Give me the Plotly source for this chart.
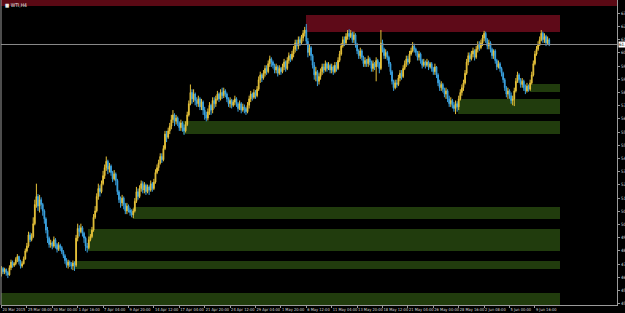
import plotly.graph_objects as go

# ---------------- data (WTI, H4, 20 Mar 2015 16:00 -> 11 Jun 2015) ----------------
first_open = 46.95
closes = [
    47.30, 47.10,
    47.25, 47.05, 46.90, 47.35, 47.70, 47.50,
    47.60, 47.85, 48.05, 47.75, 47.45, 47.60,
    47.90, 48.40, 48.70, 49.40, 49.10, 49.30,
    50.10, 51.30, 51.80, 51.20, 51.60, 51.30,
    50.90, 50.40, 49.70, 49.20, 48.80, 48.90,
    48.70, 49.10, 48.80, 48.50, 48.75, 48.60,
    48.35, 48.10, 47.80, 47.50, 47.70, 47.55,
    47.45, 47.65, 47.50, 49.20, 49.80, 49.60,
    49.85, 49.50, 49.20, 48.70, 48.60, 49.10,
    49.30,
    49.70, 50.50, 50.90, 51.80, 52.30, 52.10,
    52.60, 53.10, 53.60, 54.00, 53.50, 53.70,
    53.30, 52.90, 53.20, 52.80, 52.10, 51.60,
    51.40, 51.70, 51.30, 50.90, 51.20, 50.95,
    50.80, 50.65, 50.90, 51.50, 52.10, 51.80,
    52.30, 52.60, 52.20, 52.50, 52.10, 52.40,
    52.20, 52.60, 52.30, 52.70, 53.30, 53.60,
    53.90, 54.30, 54.10, 54.80, 55.70, 55.50,
    55.90, 56.20, 56.60, 56.90, 56.50, 56.70,
    56.40, 56.10, 56.40, 56.10, 55.90, 56.30,
    56.90, 57.60, 58.30, 57.90, 58.20, 57.80,
    57.60, 57.90, 57.40, 57.70, 57.20, 56.90,
    56.70, 57.10, 57.50, 57.20, 57.80, 57.60,
    57.90, 58.20, 57.90, 58.30, 58.10, 58.40,
    58.20, 57.90, 57.60, 57.80, 57.50, 57.70,
    57.90, 57.60, 57.30, 57.60, 57.20, 57.40,
    57.30, 57.10, 57.50, 57.90, 58.20, 58.00,
    58.30, 58.10, 58.50, 59.10, 59.40, 59.20,
    59.50, 59.80, 59.60, 60.10, 60.40, 60.20,
    60.00, 59.70, 59.90, 59.50, 59.80, 59.60,
    59.90, 60.20, 59.80, 60.30, 60.60, 60.40,
    60.70, 61.00, 61.40, 61.20, 61.60, 61.40,
    61.70, 62.00, 62.20, 61.50, 60.80, 61.10,
    60.60, 60.00, 59.40, 59.60, 59.00, 59.30,
    59.60, 59.90, 59.70, 60.10, 59.80, 60.00,
    59.70, 59.90, 59.60, 60.00, 59.80, 60.30,
    60.70, 61.20, 61.60, 61.40, 61.80, 62.00,
    61.80, 62.00, 61.60, 61.90, 61.30, 60.90,
    60.60, 60.90, 60.50, 60.10, 60.30, 60.10,
    60.40, 60.20, 59.80, 60.10, 59.90, 60.30,
    60.10, 59.80, 61.40, 61.00, 60.60, 60.80,
    60.50, 60.10, 59.60, 59.00, 58.60, 58.90,
    58.80, 59.20, 59.50, 59.30, 59.80, 60.10,
    60.40, 60.20, 60.70, 60.90, 61.20, 61.00,
    60.80, 60.50, 60.70, 60.30, 60.00, 60.20,
    60.00, 60.20, 59.90, 60.10, 59.80,
    59.60, 59.90, 59.40, 58.90, 58.60, 58.80,
    58.50, 58.20, 58.40, 57.90, 57.60, 57.80,
    57.50, 57.30, 57.60, 57.40, 57.90, 58.30,
    58.60, 58.90, 59.50, 60.20, 60.60, 60.40,
    60.70, 60.90, 60.50, 61.00, 61.30, 61.10,
    61.40, 61.70, 62.00, 61.60, 61.20, 61.40,
    61.00, 60.60, 60.90, 60.30, 59.90, 60.10,
    59.80, 59.50, 59.10, 58.60, 58.20, 58.40,
    58.10, 57.80, 57.90, 58.40, 59.00, 59.40,
    59.10, 58.80, 59.00, 58.60, 58.40, 58.70,
    58.50, 58.90, 59.40, 60.10, 60.70, 61.00,
    61.30, 61.60, 62.00, 61.60, 61.80, 61.40,
    61.60, 61.30,
]
highs = [
    47.45, 47.40,
    47.35, 47.30, 47.15, 47.50, 47.85, 47.80,
    47.70, 48.00, 48.20, 48.10, 47.85, 47.75,
    48.05, 48.55, 48.90, 49.60, 49.55, 49.50,
    50.50, 51.60, 52.60, 51.95, 51.90, 51.75,
    51.40, 51.00, 50.50, 49.90, 49.30, 49.10,
    49.00, 49.30, 49.20, 48.90, 48.95, 48.85,
    48.70, 48.45, 48.20, 47.95, 47.85, 47.80,
    47.70, 47.80, 47.75, 49.40, 50.10, 50.00,
    50.10, 49.95, 49.60, 49.30, 48.90, 49.30,
    49.45,
    49.90, 50.70, 51.20, 52.00, 52.60, 52.50,
    52.80, 53.40, 53.80, 54.30, 54.10, 53.90,
    53.80, 53.40, 53.45, 53.30, 52.90, 52.20,
    51.80, 51.90, 51.80, 51.40, 51.40, 51.30,
    51.10, 51.00, 51.05, 51.70, 52.40, 52.30,
    52.50, 52.80, 52.75, 52.70, 52.60, 52.55,
    52.50, 52.80, 52.70, 52.90, 53.50, 53.80,
    54.10, 54.50, 54.50, 55.00, 55.90, 55.90,
    56.10, 56.40, 56.90, 57.20, 57.00, 56.90,
    56.80, 56.50, 56.60, 56.50, 56.30, 56.50,
    57.10, 57.80, 58.80, 58.50, 58.50, 58.30,
    58.00, 58.10, 58.00, 57.90, 57.80, 57.40,
    57.10, 57.30, 57.70, 57.60, 58.00, 58.00,
    58.10, 58.40, 58.30, 58.50, 58.60, 58.60,
    58.50, 58.30, 58.00, 58.00, 57.90, 57.85,
    58.10, 58.00, 57.70, 57.80, 57.70, 57.60,
    57.55, 57.40, 57.70, 58.10, 58.40, 58.30,
    58.50, 58.45, 58.70, 59.30, 59.60, 59.50,
    59.70, 60.00, 60.00, 60.30, 60.60, 60.50,
    60.30, 60.10, 60.10, 60.00, 60.00, 59.90,
    60.10, 60.40, 60.30, 60.50, 60.80, 60.70,
    60.90, 61.20, 61.60, 61.60, 61.80, 61.80,
    61.90, 62.20, 62.40, 62.58, 61.70, 61.30,
    61.20, 60.70, 60.20, 59.90, 59.70, 59.50,
    59.80, 60.10, 60.10, 60.30, 60.20, 60.20,
    60.10, 60.10, 60.00, 60.20, 60.20, 60.50,
    60.90, 61.40, 61.80, 61.80, 62.00, 62.20,
    62.25, 62.20, 62.10, 62.10, 62.00, 61.40,
    61.00, 61.10, 61.00, 60.60, 60.50, 60.40,
    60.60, 60.50, 60.30, 60.30, 60.20, 60.50,
    60.40, 60.20, 62.20, 61.60, 61.10, 61.00,
    60.90, 60.60, 60.20, 59.70, 59.10, 59.10,
    59.10, 59.40, 59.70, 59.70, 60.00, 60.30,
    60.60, 60.60, 60.90, 61.10, 61.45, 61.35,
    61.10, 60.90, 60.90, 60.80, 60.40, 60.40,
    60.30, 60.40, 60.30, 60.20, 60.20,
    59.90, 60.10, 59.95, 59.50, 59.10, 59.00,
    58.90, 58.60, 58.60, 58.50, 58.10, 58.00,
    57.90, 57.70, 57.80, 57.75, 58.10, 58.50,
    58.80, 59.10, 59.70, 60.40, 60.80, 60.80,
    60.90, 61.10, 61.00, 61.20, 61.50, 61.50,
    61.60, 61.90, 62.15, 62.10, 61.70, 61.60,
    61.50, 61.10, 61.00, 61.00, 60.40, 60.30,
    60.20, 59.90, 59.60, 59.20, 58.70, 58.60,
    58.50, 58.30, 58.10, 58.60, 59.20, 59.60,
    59.50, 59.20, 59.20, 59.10, 58.80, 58.90,
    58.80, 59.10, 59.60, 60.30, 60.90, 61.20,
    61.50, 61.80, 62.20, 62.10, 62.00, 61.90,
    61.80, 61.70,
]
lows = [
    46.80, 46.95,
    46.95, 46.85, 46.70, 46.85, 47.20, 47.35,
    47.40, 47.50, 47.70, 47.55, 47.30, 47.35,
    47.55, 47.85, 48.30, 48.60, 48.95, 49.00,
    49.20, 50.00, 51.10, 50.90, 50.80, 51.00,
    50.60, 50.10, 49.50, 48.90, 48.60, 48.60,
    48.50, 48.60, 48.55, 48.30, 48.40, 48.40,
    48.20, 47.95, 47.60, 47.35, 47.30, 47.40,
    47.25, 47.20, 47.15, 47.40, 49.00, 49.30,
    49.50, 49.30, 48.90, 48.40, 48.30, 48.50,
    49.00,
    49.20, 49.60, 50.40, 50.80, 51.60, 51.80,
    52.00, 52.50, 52.90, 53.40, 53.20, 53.30,
    53.10, 52.70, 52.80, 52.50, 51.90, 51.40,
    51.10, 51.20, 51.00, 50.70, 50.70, 50.80,
    50.60, 50.50, 50.45, 50.80, 51.40, 51.60,
    51.70, 52.10, 52.00, 52.00, 51.90, 52.00,
    51.90, 52.10, 52.10, 52.20, 52.60, 53.20,
    53.40, 53.80, 53.90, 54.00, 54.70, 55.20,
    55.40, 55.70, 56.00, 56.40, 56.20, 56.30,
    56.20, 55.90, 55.90, 55.85, 55.65, 55.80,
    56.20, 56.80, 57.50, 57.60, 57.70, 57.50,
    57.40, 57.40, 57.20, 57.20, 56.90, 56.60,
    56.50, 56.55, 56.90, 56.90, 57.00, 57.30,
    57.40, 57.80, 57.70, 57.80, 57.90, 57.95,
    58.00, 57.70, 57.40, 57.35, 57.30, 57.40,
    57.50, 57.40, 57.10, 57.20, 57.00, 57.10,
    57.00, 56.90, 57.00, 57.30, 57.70, 57.80,
    57.90, 57.90, 58.00, 58.40, 58.90, 58.95,
    59.10, 59.30, 59.40, 59.50, 59.90, 59.90,
    59.80, 59.50, 59.50, 59.30, 59.40, 59.40,
    59.50, 59.70, 59.60, 59.70, 60.10, 60.20,
    60.30, 60.50, 60.80, 60.90, 61.00, 61.20,
    61.30, 61.50, 61.80, 61.30, 60.50, 60.60,
    60.30, 59.80, 59.10, 59.00, 58.70, 58.80,
    59.10, 59.40, 59.50, 59.60, 59.60, 59.70,
    59.50, 59.50, 59.40, 59.50, 59.60, 59.70,
    60.20, 60.60, 61.10, 61.20, 61.30, 61.60,
    61.60, 61.70, 61.40, 61.40, 61.10, 60.70,
    60.40, 60.40, 60.30, 59.90, 59.90, 59.90,
    59.90, 60.00, 59.60, 59.60, 59.70, 59.00,
    59.90, 59.50, 59.70, 60.80, 60.40, 60.40,
    60.30, 59.90, 59.40, 58.80, 58.40, 58.50,
    58.60, 58.70, 59.00, 59.10, 59.20, 59.70,
    59.90, 60.00, 60.10, 60.60, 60.80, 60.80,
    60.60, 60.30, 60.30, 60.10, 59.80, 59.90,
    59.80, 59.90, 59.70, 59.80, 59.60,
    59.40, 59.40, 59.20, 58.70, 58.40, 58.40,
    58.30, 58.00, 57.90, 57.70, 57.40, 57.40,
    57.30, 57.10, 56.95, 57.10, 57.20, 57.80,
    58.10, 58.40, 58.80, 59.40, 60.00, 60.20,
    60.30, 60.50, 60.30, 60.40, 60.80, 60.90,
    61.00, 61.20, 61.50, 61.40, 61.00, 61.00,
    60.80, 60.40, 60.40, 60.10, 59.70, 59.80,
    59.60, 59.30, 58.90, 58.40, 58.00, 57.90,
    57.90, 57.60, 57.50, 57.45, 58.30, 58.90,
    58.90, 58.60, 58.60, 58.40, 58.20, 58.30,
    58.35, 58.40, 58.80, 59.30, 60.00, 60.60,
    60.90, 61.20, 61.50, 61.40, 61.40, 61.20,
    61.30, 61.20,
]
opens = [first_open] + closes[:-1]
bar_index = list(range(len(closes)))

# x-axis labels (every 16 bars)
date_tick_index = [0, 16, 32, 48, 64, 80, 96, 112, 128, 144, 160, 176,
                   192, 208, 224, 240, 256, 272, 288, 304, 320, 336]
date_tick_text = ["20 Mar 2015", "25 Mar 08:00", "30 Mar 00:00", "1 Apr 16:00",
                  "7 Apr 04:00", "9 Apr 20:00", "14 Apr 12:00", "17 Apr 04:00",
                  "21 Apr 20:00", "24 Apr 12:00", "29 Apr 04:00", "1 May 20:00",
                  "6 May 12:00", "11 May 04:00", "13 May 20:00", "18 May 12:00",
                  "21 May 04:00", "26 May 00:00", "28 May 16:00", "2 Jun 08:00",
                  "5 Jun 00:00", "9 Jun 16:00"]

# price scale labels
price_ticks = [63.25, 62.43, 61.60, 60.78, 59.95, 59.13, 58.30, 57.48, 56.65,
               55.83, 55.00, 54.18, 53.35, 52.53, 51.70, 50.88, 50.05, 49.23,
               48.40, 47.58, 46.75, 45.93, 45.10]
price_tick_text = ["%.2f" % v for v in price_ticks]

# supply / demand zones
zone_kind = ["supply", "demand", "demand", "demand", "demand", "demand", "demand", "demand"]
zone_start = [191.8, 332.9, 287.6, 114.3, 82.8, 54.5, 46.3, -1.0]
zone_end = [351.8, 351.8, 351.8, 351.8, 351.8, 351.8, 351.8, 351.8]
zone_low = [62.08, 58.33, 56.96, 55.71, 50.39, 48.39, 47.27, 45.02]
zone_high = [63.14, 58.83, 57.89, 56.52, 51.14, 49.77, 47.77, 45.77]
top_band_low, top_band_high = 63.70, 64.08

x_range = [-0.3, 387.7]
y_range = [45.02, 64.08]

# ---------------- figure ----------------
UP = "#e6c23a"
DOWN = "#3aa2e0"
AXIS = "#9a9a9a"
TXT = "#d8d8d8"
NARROW = "Liberation Sans Narrow, DejaVu Sans Condensed, Arial Narrow, sans-serif"

fig = go.Figure()
fig.add_trace(go.Candlestick(
    x=bar_index, open=opens, high=highs, low=lows, close=closes,
    increasing=dict(line=dict(color=UP, width=1), fillcolor=UP),
    decreasing=dict(line=dict(color=DOWN, width=1), fillcolor=DOWN),
    whiskerwidth=0, hoverinfo="skip", showlegend=False,
))

shapes = []
for k, s, e, lo, hi in zip(zone_kind, zone_start, zone_end, zone_low, zone_high):
    shapes.append(dict(type="rect", xref="x", yref="y", x0=s, x1=e, y0=lo, y1=hi,
                       fillcolor="#5e0a18" if k == "supply" else "#213c0d",
                       line=dict(width=0), layer="below"))
shapes.append(dict(type="rect", xref="paper", yref="y", x0=0, x1=1,
                   y0=top_band_low, y1=top_band_high,
                   fillcolor="#5a0914", line=dict(width=0), layer="below"))
# bid line
shapes.append(dict(type="line", xref="paper", yref="y", x0=0, x1=1,
                   y0=closes[-1], y1=closes[-1],
                   line=dict(color="#8a8a8a", width=1), layer="above"))
# left frame line
shapes.append(dict(type="line", xref="paper", yref="paper", x0=0, x1=0, y0=0, y1=1,
                   line=dict(color=AXIS, width=1)))

annotations = [
    dict(xref="paper", yref="paper", x=0.004, y=1.0, xanchor="left", yanchor="top",
         text="■ WTI,H4", showarrow=False, font=dict(size=5, color="#e8e8e8",
                                                     family=NARROW)),
    dict(xref="paper", yref="y", x=1.0, y=closes[-1], xanchor="left", yanchor="middle",
         xshift=1, text="%.2f" % closes[-1], showarrow=False, bgcolor="#ffffff",
         font=dict(size=4.5, color="#000000", family=NARROW), borderpad=0),
]

fig.update_layout(
    width=625, height=313,
    margin=dict(l=1, r=8, t=0, b=8, autoexpand=False),
    paper_bgcolor="#000000", plot_bgcolor="#000000",
    shapes=shapes, annotations=annotations,
    font=dict(family=NARROW, size=4, color=TXT),
    xaxis=dict(range=x_range, showgrid=False, zeroline=False, showline=True,
               linecolor=AXIS, linewidth=1, ticks="outside", ticklen=2,
               tickcolor=AXIS, tickwidth=1, tickvals=date_tick_index,
               ticktext=date_tick_text, ticklabelposition="outside right",
               tickangle=0, automargin=False,
               tickfont=dict(size=4, color=TXT, family=NARROW),
               rangeslider=dict(visible=False), fixedrange=True),
    yaxis=dict(range=y_range, side="right", showgrid=False, zeroline=False,
               showline=True, linecolor=AXIS, linewidth=1, ticks="outside",
               ticklen=2, tickcolor=AXIS, tickvals=price_ticks, automargin=False,
               ticktext=price_tick_text,
               tickfont=dict(size=4.5, color=TXT, family=NARROW),
               fixedrange=True),
)

fig.write_html("out.html")
